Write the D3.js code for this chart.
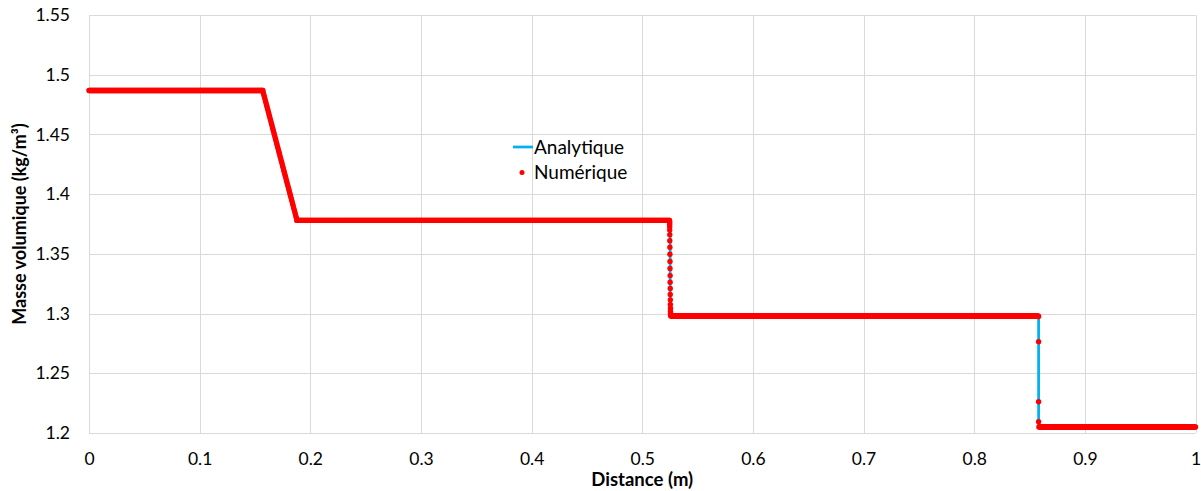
<!DOCTYPE html>
<html>
<head>
<meta charset="utf-8">
<script src="https://cdn.jsdelivr.net/npm/d3@7"></script>
<style>
  html, body { margin: 0; padding: 0; background: #ffffff; }
  svg { display: block; }
  text { font-family: Lato, "Liberation Sans", sans-serif; fill: #000; }
</style>
</head>
<body>
<div id="chart"></div>
<script>
// ---------- Data ----------
const xTicks = [0, 0.1, 0.2, 0.3, 0.4, 0.5, 0.6, 0.7, 0.8, 0.9, 1];
const yTicks = [1.2, 1.25, 1.3, 1.35, 1.4, 1.45, 1.5, 1.55];

// Analytical solution (blue line)
const anaX   = [0, 0.157, 0.1673, 0.1777, 0.188, 0.5252, 0.5252, 0.8582, 0.8582, 1];
const anaRho = [1.4868, 1.4868, 1.4507, 1.4144, 1.378, 1.378, 1.298, 1.298, 1.205, 1.205];

// Numerical solution: constant states on the solver mesh
const meshStep     = 0.0005;
const plateauStart = [0, 0.188, 0.5258, 0.8585];
const plateauEnd   = [0.157, 0.5245, 0.858, 1];
const plateauRho   = [1.4868, 1.378, 1.298, 1.205];

// Numerical solution: rarefaction fan cells
const fanX = [0.1570,0.1575,0.1580,0.1585,0.1590,0.1595,0.1600,0.1605,0.1610,0.1615,
              0.1620,0.1625,0.1630,0.1635,0.1640,0.1645,0.1650,0.1655,0.1660,0.1665,
              0.1670,0.1675,0.1680,0.1685,0.1690,0.1695,0.1700,0.1705,0.1710,0.1715,
              0.1720,0.1725,0.1730,0.1735,0.1740,0.1745,0.1750,0.1755,0.1760,0.1765,
              0.1770,0.1775,0.1780,0.1785,0.1790,0.1795,0.1800,0.1805,0.1810,0.1815,
              0.1820,0.1825,0.1830,0.1835,0.1840,0.1845,0.1850,0.1855,0.1860,0.1865,
              0.1870,0.1875,0.1880];
const fanRho = [1.4868,1.4850,1.4833,1.4815,1.4798,1.4780,1.4763,1.4745,1.4728,1.4710,
                1.4693,1.4675,1.4657,1.4640,1.4622,1.4605,1.4587,1.4570,1.4552,1.4535,
                1.4517,1.4500,1.4482,1.4464,1.4447,1.4429,1.4412,1.4394,1.4377,1.4359,
                1.4342,1.4324,1.4306,1.4289,1.4271,1.4254,1.4236,1.4219,1.4201,1.4184,
                1.4166,1.4149,1.4131,1.4113,1.4096,1.4078,1.4061,1.4043,1.4026,1.4008,
                1.3991,1.3973,1.3955,1.3938,1.3920,1.3903,1.3885,1.3868,1.3850,1.3833,
                1.3815,1.3798,1.3780];

// Numerical solution: contact discontinuity cells
const contactX = [0.5246,0.5246,0.5247,0.5247,0.5248,0.5248,0.5248,0.5249,0.5249,0.5250,
                  0.5250,0.5251,0.5251,0.5252,0.5252,0.5253,0.5253,0.5254,0.5254,0.5255,
                  0.5255,0.5256,0.5256,0.5257];
const contactRho = [1.3779,1.3775,1.3769,1.3760,1.3747,1.3728,1.3700,1.3660,1.3610,1.3555,
                    1.3497,1.3437,1.3377,1.3318,1.3262,1.3210,1.3160,1.3115,1.3076,1.3045,
                    1.3020,1.3003,1.2992,1.2985];

// Numerical solution: shock cells
const shockX   = [0.8582, 0.8582, 0.8582, 0.8582];
const shockRho = [1.2975, 1.2765, 1.2262, 1.2095];

const legendLabels = ["Analytique", "Numérique"];
const xTitle = "Distance (m)";
const yTitle = "Masse volumique (kg/m³)";

// ---------- Layout ----------
const W = 1201, H = 491;
const margin = { left: 89, right: 5, top: 15, bottom: 58 };
const x0 = margin.left, x1 = W - margin.right - 0.5;
const y0 = H - margin.bottom, y1 = margin.top;

const svg = d3.select("#chart").append("svg").attr("width", W).attr("height", H);

const x = d3.scaleLinear().domain([0, 1]).range([x0, x1]);
const y = d3.scaleLinear().domain([1.2, 1.55]).range([y0, y1]);

// gridlines
const grid = svg.append("g");
grid.selectAll("line.v").data(xTicks).join("line")
  .attr("x1", d => Math.round(x(d)) + 0.5).attr("x2", d => Math.round(x(d)) + 0.5)
  .attr("y1", y1).attr("y2", y0)
  .attr("stroke", "#d9d9d9").attr("stroke-width", 1);
grid.selectAll("line.h").data(yTicks).join("line")
  .attr("x1", x0).attr("x2", x1)
  .attr("y1", d => Math.round(y(d)) + 0.5).attr("y2", d => Math.round(y(d)) + 0.5)
  .attr("stroke", "#d9d9d9").attr("stroke-width", 1);

// axes (labels only)
const xAxis = d3.axisBottom(x).tickValues(xTicks).tickSize(0).tickPadding(20)
  .tickFormat(d => String(+d.toFixed(1)));
const yAxis = d3.axisLeft(y).tickValues(yTicks).tickSize(0).tickPadding(19)
  .tickFormat(d => String(+d.toFixed(2)));

const gx = svg.append("g").attr("transform", `translate(0,${y0})`).call(xAxis);
gx.select(".domain").remove();
gx.selectAll("text").style("font-size", "17.5px").style("font-family", "Lato, sans-serif");

const gy = svg.append("g").attr("transform", `translate(${x0},0)`).call(yAxis);
gy.select(".domain").remove();
gy.selectAll("text").style("font-size", "17.5px").style("font-family", "Lato, sans-serif");

// axis titles
svg.append("text").attr("x", (x0 + x1) / 2).attr("y", 486)
  .attr("text-anchor", "middle").style("font-size", "18.5px").style("font-weight", "bold")
  .text(xTitle);
svg.append("text").attr("transform", `translate(26,${(y0 + y1) / 2}) rotate(-90)`)
  .attr("text-anchor", "middle").style("font-size", "18px").style("font-weight", "bold")
  .text(yTitle);

// analytical line
const anaData = anaX.map((d, i) => [d, anaRho[i]]);
svg.append("path").datum(anaData)
  .attr("fill", "none").attr("stroke", "#00b0f0").attr("stroke-width", 2.75)
  .attr("d", d3.line().x(d => x(d[0])).y(d => y(d[1])));

// numerical points
const numData = [];
plateauStart.forEach((s, k) => {
  const n = Math.round((plateauEnd[k] - s) / meshStep);
  for (let i = 0; i <= n; i++) numData.push([s + i * meshStep, plateauRho[k]]);
});
fanX.forEach((d, i) => numData.push([d, fanRho[i]]));
contactX.forEach((d, i) => numData.push([d, contactRho[i]]));
shockX.forEach((d, i) => numData.push([d, shockRho[i]]));

svg.append("g").selectAll("circle").data(numData).join("circle")
  .attr("cx", d => x(d[0])).attr("cy", d => y(d[1])).attr("r", 2.7)
  .attr("fill", "#ff0000");

// legend
const lg = svg.append("g");
lg.append("line").attr("x1", 513).attr("x2", 533).attr("y1", 147).attr("y2", 147)
  .attr("stroke", "#00b0f0").attr("stroke-width", 2.75);
lg.append("text").attr("x", 534).attr("y", 147).attr("dy", "0.35em")
  .style("font-size", "19px").text(legendLabels[0]);
lg.append("circle").attr("cx", 522).attr("cy", 172.5).attr("r", 2.5).attr("fill", "#ff0000");
lg.append("text").attr("x", 534).attr("y", 172.5).attr("dy", "0.35em")
  .style("font-size", "19px").text(legendLabels[1]);
</script>
</body>
</html>
